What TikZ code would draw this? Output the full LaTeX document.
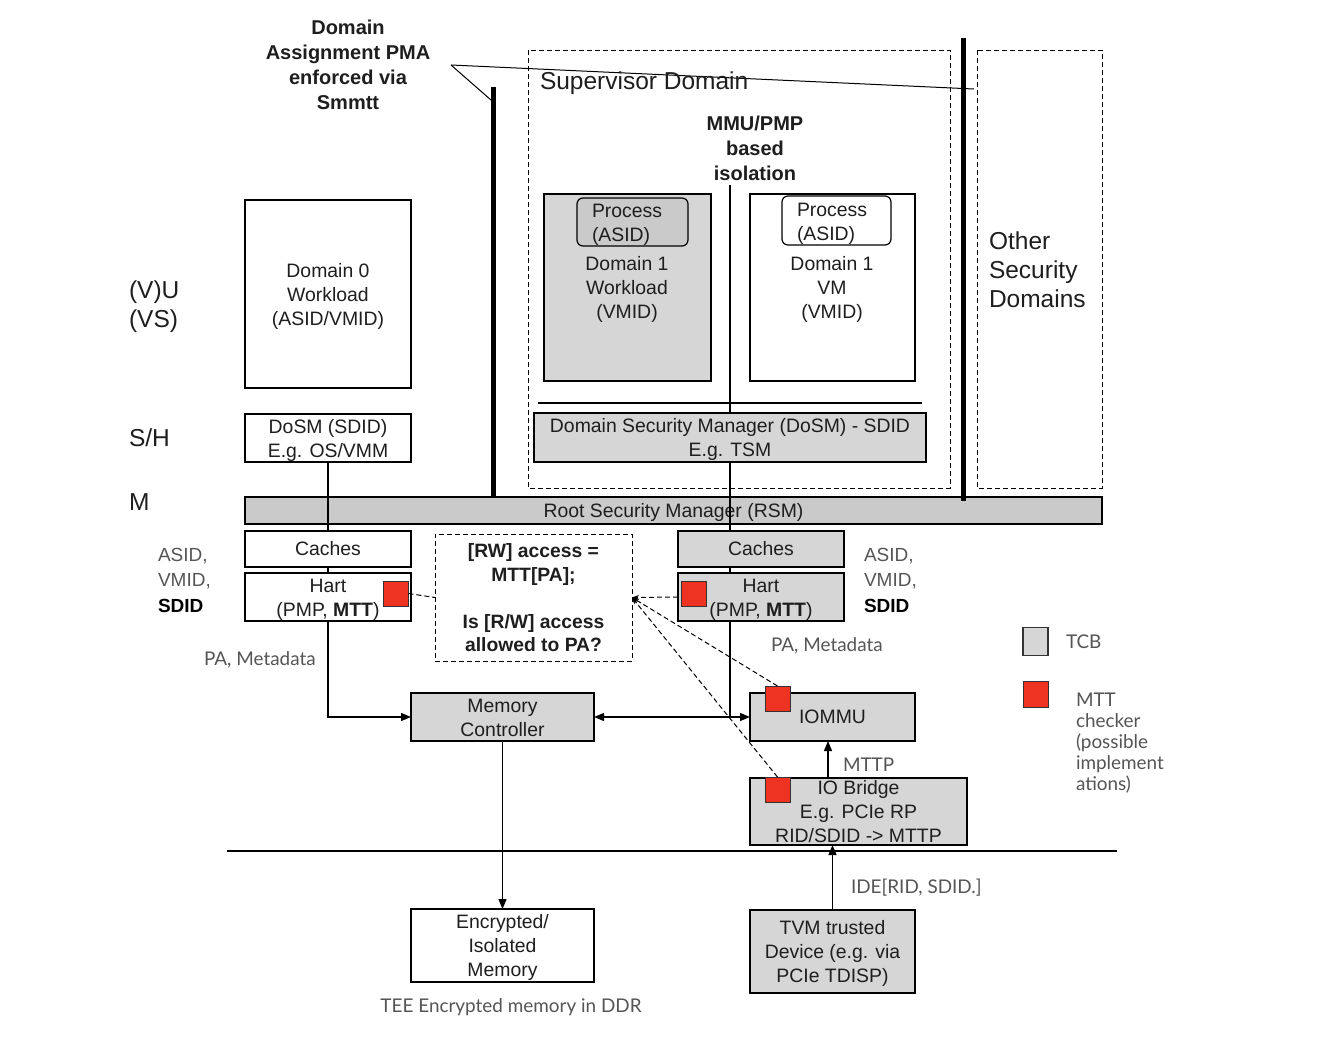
\documentclass[tikz,border=0pt]{standalone}
\usepackage{fontspec}
\setmainfont{Liberation Sans}
\newfontfamily\labfont{Lato}
\usetikzlibrary{arrows.meta,calc}
\pgfdeclarelayer{bg}\pgfdeclarelayer{mid}\pgfsetlayers{bg,mid,main}
\definecolor{tcb}{HTML}{D6D6D6}
\definecolor{tcbdark}{HTML}{CACACA}
\definecolor{mttred}{HTML}{EE3322}
\definecolor{lab}{HTML}{555555}
\definecolor{ink}{HTML}{1E1E1E}
\begin{document}
\begin{tikzpicture}[x=1pt,y=-1pt,
  every node/.style={inner sep=0pt,outer sep=0pt,text=ink},
  strutted/.style={execute at begin node={\rule{0pt}{0.94em}},execute at end node={\rule[-0.22em]{0pt}{0.22em}}},
  ml/.style={yshift=-2.5pt},
  txt/.style={strutted,font=\fontsize{19.4}{24}\selectfont,align=center},
  mtxt/.style={txt,ml},
  box/.style={draw=black,line width=1.2pt,fill=white,txt},
  gbox/.style={box,fill=tcb},
  procbox/.style={draw=black,line width=1.2pt,rounded corners=6pt},
  redsq/.style={draw=black!80,line width=1pt,fill=mttred,minimum width=25,minimum height=25},
  lbl/.style={strutted,font=\labfont\fontsize{18.9}{21}\selectfont,text=lab,align=left},
  idlbl/.style={strutted,font=\fontsize{19}{25.5}\selectfont,text=lab,align=left},
  big/.style={strutted,font=\fontsize{24.5}{29}\selectfont,align=left},
  boldtxt/.style={strutted,font=\bfseries\fontsize{20}{25}\selectfont,align=center},
  bar/.style={line width=5pt},
  ln/.style={line width=1.2pt},
  arr/.style={ln,-{Triangle[length=10pt,width=8pt]}},
  dsh/.style={dashed,dash pattern=on 5pt off 3pt,line width=1pt},
  dsharr/.style={dsh,-{Stealth[length=7pt,width=5pt]}}
]
\useasboundingbox (0,0) rectangle (1323,1053);
\begin{pgfonlayer}{bg}
\fill[white] (0,0) rectangle (1323,1053);
\end{pgfonlayer}

% title and its pointer lines
\node[boldtxt,ml] (title) at (348,64.5) {Domain\\Assignment PMA\\enforced via\\Smmtt};
\coordinate (tp) at (451,65);
\coordinate (b1t) at (493,87);
\coordinate (b1b) at (493,497);
\coordinate (b2t) at (963,38);
\coordinate (b2b) at (963,501);
\coordinate (b1hit) at (491,100);
\coordinate (b2hit) at (974,89);
\draw[bar] (b1t) -- (b1b);
\draw[bar] (b2t) -- (b2b);
\draw[line width=1pt] (tp) -- (b1hit);
\draw[line width=1pt] (tp) -- (b2hit);

% domains
\draw[dsh] (528,50) rectangle (950,488);
\node[big,anchor=west] (sup) at (540,81) {Supervisor Domain};
\draw[dsh] (977,50) rectangle (1102,488);
\node[big,ml,anchor=west] (other) at (989,270) {Other\\Security\\Domains};

\node[boldtxt,ml] (mmu) at (755,148) {MMU/PMP\\based\\isolation};

% domain 1 workload
\node[gbox,minimum width=167,minimum height=187] (w1) at (627.5,287.5) {};
\node[procbox,fill=tcbdark,minimum width=111,minimum height=48] (p1) at (632.5,222) {};
\node[mtxt,align=left,anchor=west] (p1t) at (592,222) {Process\\(ASID)};
\node[mtxt] (w1t) at (627,287.5) {Domain 1\\Workload\\(VMID)};

% domain 1 VM
\node[box,minimum width=165,minimum height=187] (vm) at (832.5,287.5) {};
\node[procbox,fill=white,minimum width=109,minimum height=49] (p2) at (836.5,220.5) {};
\node[mtxt,align=left,anchor=west] (p2t) at (797,221) {Process\\(ASID)};
\node[mtxt] (vmt) at (832,287.5) {Domain 1\\VM\\(VMID)};

\coordinate (hl1) at (538,403);
\coordinate (hl2) at (922,403);
\draw[ln] (hl1) -- (hl2);

\node[gbox,minimum width=392,minimum height=49] (dosm) at (730,437.5) {};
\node[mtxt] (dosmt) at (dosm) {Domain Security Manager (DoSM) - SDID\\E.g. TSM};

% domain 0
\node[box,minimum width=166,minimum height=188] (d0) at (328,294) {};
\node[mtxt] (d0t) at (d0) {Domain 0\\Workload\\(ASID/VMID)};
\node[box,minimum width=166,minimum height=48] (dosm0) at (328,438) {};
\node[mtxt] (dosm0t) at (dosm0) {DoSM (SDID)\\E.g. OS/VMM};

% privilege levels
\node[big,ml,anchor=west] (vu) at (129,304.5) {(V)U\\(VS)};
\node[big,anchor=west] (sh) at (129,438) {S/H};
\node[big,anchor=west] (mm) at (129,502) {M};

% RSM on background
\begin{pgfonlayer}{bg}
\node[gbox,fill=tcbdark,minimum width=857,minimum height=27] (rsm) at (673.5,510.5) {Root Security Manager (RSM)};
\end{pgfonlayer}

% left hart
\node[box,minimum width=166,minimum height=36] (cache1) at (328,549) {Caches};
\node[box,minimum width=166,minimum height=48] (hart1) at (328,597) {};
\node[mtxt] (hart1t) at (hart1) {Hart\\(PMP, \textbf{MTT})};
\node[redsq] (red1) at (396,593.5) {};
\node[idlbl,ml,anchor=west] (id1) at (158,579.5) {ASID,\\VMID,\\\textcolor{black}{\textbf{SDID}}};
\node[lbl,anchor=west] (pa1) at (204,659) {PA, Metadata};

% checker box
\node[draw,dsh,minimum width=197,minimum height=127] (chk) at (533.5,597.5) {};
\node[strutted,ml,font=\bfseries\fontsize{19.3}{23.5}\selectfont,align=center] (chkt) at (chk) {[RW] access =\\MTT[PA];\\[23.5pt]Is [R/W] access\\allowed to PA?};

% memory controller
\node[gbox,minimum width=183,minimum height=48] (memctl) at (502.5,717) {};
\node[mtxt] (memctlt) at (memctl) {Memory\\Controller};

% right hart
\node[gbox,minimum width=166,minimum height=36] (cache2) at (761,549) {Caches};
\node[gbox,minimum width=166,minimum height=48] (hart2) at (761,597) {};
\node[mtxt] (hart2t) at (hart2) {Hart\\(PMP, \textbf{MTT})};
\node[redsq] (red2) at (693.5,593.5) {};
\node[idlbl,ml,anchor=west] (id2) at (864,579.5) {ASID,\\VMID,\\\textcolor{black}{\textbf{SDID}}};
\node[lbl,anchor=west] (pa2) at (771,645) {PA, Metadata};

% IOMMU
\node[gbox,minimum width=165,minimum height=48] (iommu) at (832.5,717) {IOMMU};
\node[redsq] (red3) at (777.5,698.5) {};

% IO bridge
\node[gbox,minimum width=217,minimum height=67] (iob) at (858.5,811.5) {};
\node[mtxt] (iobt) at (iob) {IO Bridge\\E.g. PCIe RP\\RID/SDID -> MTTP};
\node[redsq] (red4) at (777.5,789.5) {};
\node[lbl,anchor=west] (mttp) at (843,765) {MTTP};

\coordinate (sep1) at (227,851);
\coordinate (sep2) at (1117,851);
\draw[ln] (sep1) -- (sep2);

\node[gbox,minimum width=165,minimum height=83] (tvm) at (832.5,951.5) {};
\node[mtxt] (tvmt) at (tvm) {TVM trusted\\Device (e.g. via\\PCIe TDISP)};
\node[lbl,anchor=west] (ide) at (851,887) {IDE[RID, SDID.]};

\node[box,minimum width=183,minimum height=73] (enc) at (502.5,945.5) {};
\node[mtxt] (enct) at (enc) {Encrypted/\\Isolated\\Memory};
\node[lbl,align=center] (tee) at (511,1006) {TEE Encrypted memory in DDR};

% legend
\node[draw=black!80,line width=1.2pt,fill=tcb,minimum width=25,minimum height=28] (legt) at (1035.5,641.5) {};
\node[lbl,anchor=west] (legtt) at (1066,642) {TCB};
\node[redsq,minimum height=26] (legr) at (1035.5,694) {};
\node[lbl,ml,anchor=west] (legrt) at (1076,741) {MTT\\checker\\(possible\\implement\\ations)};

% connectors behind boxes
\begin{pgfonlayer}{mid}
\draw[arr] (dosm0.south) |- (memctl.west);
\draw[ln] (dosm.south) -- (dosm.south |- memctl.east);
\draw[line width=2pt] (mmu.south -| dosm.north) -- (dosm.north);
\end{pgfonlayer}

\draw[ln,{Triangle[length=10pt,width=8pt]}-{Triangle[length=10pt,width=8pt]}] (memctl.east) -- (iommu.west);
\draw[arr] (memctl.south) -- (enc.north);
\draw[arr] ([xshift=-30.5pt]iob.north) -- ([xshift=-4.5pt]iommu.south);
\draw[arr] (tvm.north) -- (tvm.north |- iob.south);

% dashed checks
\draw[dsh] (red1.east) -- (chk.west);
\draw[dsharr] (hart2.west) -- (chk.east);
\draw[dsharr] (red3.north) -- (chk.east);
\draw[dsharr] (red4.north) -- (chk.east);
\end{tikzpicture}
\end{document}
